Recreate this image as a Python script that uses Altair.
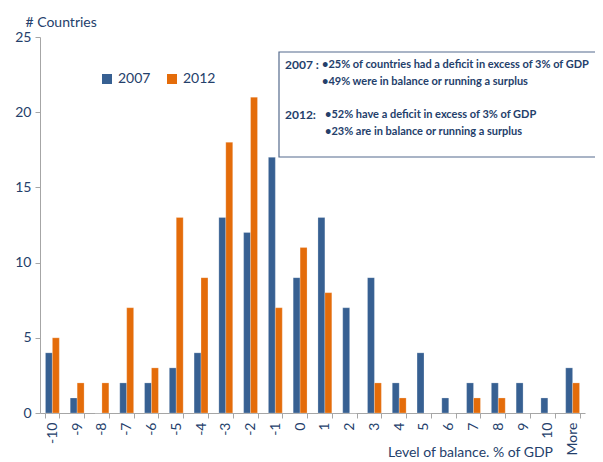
import altair as alt
import pandas as pd

categories = ["-10", "-9", "-8", "-7", "-6", "-5", "-4", "-3", "-2", "-1", "0",
              "1", "2", "3", "4", "5", "6", "7", "8", "9", "10", "More"]
values_2007 = [4, 1, 0, 2, 2, 3, 4, 13, 12, 17, 9, 13, 7, 9, 2, 4, 1, 2, 2, 2, 1, 3]
values_2012 = [5, 2, 2, 7, 3, 13, 9, 18, 21, 7, 11, 8, 0, 2, 1, 0, 0, 1, 1, 0, 0, 2]
years = ["2007", "2012"]
colors = ["#376092", "#E46C0A"]
note_2007 = ["•25% of countries had a deficit in excess of 3% of GDP",
             "•49% were in balance or running a surplus"]
note_2012 = ["•52% have a deficit  in excess of 3% of GDP",
             "•23% are in balance or running a surplus"]

rows = []
for c, a, b in zip(categories, values_2007, values_2012):
    rows.append({"cat": c, "year": "2007", "value": a})
    rows.append({"cat": c, "year": "2012", "value": b})
df = pd.DataFrame(rows)

TXT = "#24406B"
FONT = "Lato"

bars = alt.Chart(df).mark_bar(stroke="white", strokeWidth=0.4, strokeOpacity=0.6).encode(
    x=alt.X("cat:N", sort=categories,
            scale=alt.Scale(paddingInner=0.44, paddingOuter=0.22),
            axis=alt.Axis(title="Level of balance. % of GDP", labelAngle=-90,
                          tickBand="extent", titleX=430, titleY=46,
                          titleBaseline="bottom", titleAnchor="middle")),
    xOffset=alt.XOffset("year:N", sort=years, scale=alt.Scale(paddingInner=0, paddingOuter=0)),
    y=alt.Y("value:Q", scale=alt.Scale(domain=[0, 25]),
            axis=alt.Axis(values=[0, 5, 10, 15, 20, 25], title="# Countries",
                          titleAngle=0, titleAlign="left", titleX=-15, titleY=-11,
                          titleBaseline="alphabetic")),
    color=alt.Color("year:N", sort=years,
                    scale=alt.Scale(domain=years, range=colors),
                    legend=alt.Legend(title=None, orient="none", direction="horizontal",
                                      legendX=60, legendY=35, symbolType="square",
                                      symbolSize=100, symbolOpacity=1, labelFontSize=14,
                                      labelColor=TXT, labelFont=FONT, columnPadding=14,
                                      symbolStrokeWidth=0)),
)

box = alt.Chart(pd.DataFrame({"k": [0]})).mark_rect(
    fill="white", stroke="#556B8D", strokeWidth=1.2
).encode(x=alt.value(239), x2=alt.value(580), y=alt.value(15), y2=alt.value(120))


def txt(s, x, y, size=11.0):
    return alt.Chart(pd.DataFrame({"t": [s]})).mark_text(
        align="left", baseline="middle", font=FONT, fontWeight="bold",
        fontSize=size, color=TXT
    ).encode(text="t:N", x=alt.value(x), y=alt.value(y))


layers = [
    bars, box,
    txt("2007 :", 245, 28, 12), txt(note_2007[0], 282, 28), txt(note_2007[1], 282, 45),
    txt("2012:", 245, 78, 12), txt(note_2012[0], 285, 78), txt(note_2012[1], 285, 95),
]

chart = alt.layer(*layers).properties(
    width=545, height=376,
    autosize=alt.AutoSizeParams(type="none"),
    padding={"left": 32, "top": 29, "right": 10, "bottom": 48},
).configure_view(stroke=None).configure_axis(
    grid=False, domainColor="#A6A6A6", tickColor="#A6A6A6", tickSize=5,
    labelColor=TXT, titleColor=TXT, labelFont=FONT, titleFont=FONT,
    labelFontSize=14, titleFontSize=14, titleFontWeight="normal",
    labelPadding=4
)

chart.save("out.html", embed_options={"renderer": "svg", "actions": False})
